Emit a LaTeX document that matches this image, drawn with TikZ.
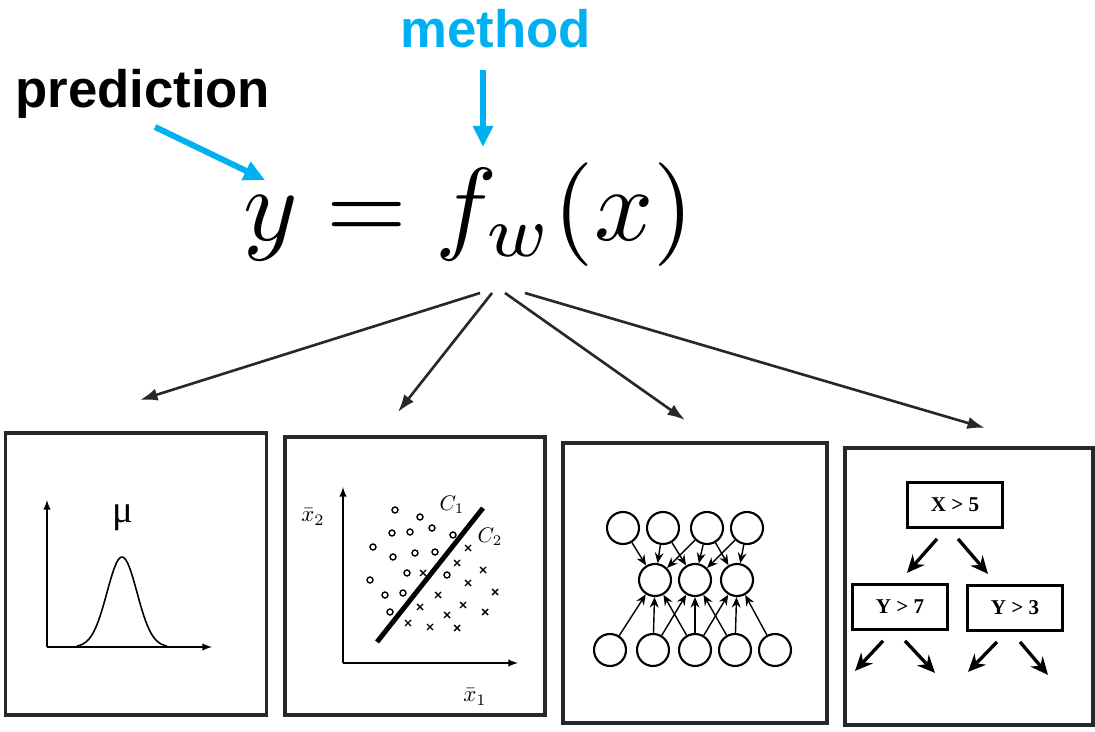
\documentclass[tikz,border=0pt]{standalone}
\usepackage{fontspec}
\usepackage{amsmath}
\usepackage{tikz}
\usetikzlibrary{arrows, arrows.meta, positioning, calc, shapes.geometric}
\newfontfamily\labelfont{Liberation Sans}
\newfontfamily\panelfont{Liberation Serif}
\definecolor{methodcyan}{RGB}{0,176,240}
\definecolor{scangray}{RGB}{40,40,40}
\tikzstyle{callout} = [inner sep=0pt, anchor=base west, font=\labelfont\bfseries\fontsize{30}{32}\selectfont]
\tikzstyle{cyanarrow} = [line width=3.4pt, color=methodcyan, -{Triangle[length=12pt,width=11pt]}]
\tikzstyle{fanarrow} = [line width=1.5pt, color=scangray, -{Latex[length=10pt,width=7pt]}]
\tikzstyle{panel} = [draw=scangray, line width=2.2pt, rectangle, inner sep=0pt]
\tikzstyle{axisarrow} = [line width=0.9pt, ->, >=latex]
\tikzstyle{neuron} = [draw, circle, line width=1.2pt, minimum size=0.64cm, inner sep=0pt]
\tikzstyle{synapse} = [line width=0.8pt, -{Stealth[length=6pt,width=5pt]}]
\tikzstyle{split} = [draw, rectangle, line width=1.6pt, minimum width=1.9cm, minimum height=0.9cm, inner sep=0pt, font=\panelfont\bfseries\fontsize{12}{14}\selectfont]
\tikzstyle{branch} = [line width=1.9pt, -{Stealth[length=10pt,width=9pt]}]

\begin{document}
\begin{tikzpicture}[x=0.02cm, y=-0.02cm]
    \useasboundingbox (0,0) rectangle (1095,732);
    % labels and formula
    \node [callout] (prediction) at (15,108) {prediction};
    \node [callout, text=methodcyan] (method) at (400,48) {method};
    \node [scale=5.9, anchor=base west, inner sep=0pt] (eqn) at (241,241) {$y=f_w(x)$};
    \coordinate (predfoot) at (155,127);
    \coordinate (predtip) at (265,180);
    \coordinate (methodfoot) at (483,70);
    \coordinate (methodtip) at (483,147);
    \draw [cyanarrow] (predfoot) -- (predtip);
    \draw [cyanarrow] (methodfoot) -- (methodtip);
    % fan out to the four methods
    \foreach \n/\sx/\tx/\ty in {1/480/140/400, 2/492/398/412, 3/505/685/420, 4/525/985/428} {
        \coordinate (root\n) at (\sx,293);
        \coordinate (tip\n) at (\tx,\ty);
        \draw [fanarrow] (root\n) -- (tip\n);
    }
    \node [panel, minimum width=5.22cm, minimum height=5.64cm] (gausspanel) at (136,574) {};
    \node [panel, minimum width=5.2cm, minimum height=5.56cm] (linpanel) at (415,576) {};
    \node [panel, minimum width=5.28cm, minimum height=5.6cm] (netpanel) at (695,583) {};
    \node [panel, minimum width=4.96cm, minimum height=5.54cm] (treepanel) at (969,586.5) {};
    % density
    \draw [axisarrow] (47,647) -- (47,500);
    \draw [axisarrow] (47,647) -- (212,647);
    \draw [line width=0.9pt] plot [domain=77:167, samples=60] (\x, {647-90*exp(-((\x-122)^2)/450)});
    \node (mu) at (123,518) {\panelfont\fontsize{22}{24}\selectfont μ};
    % linear classifier
    \draw [axisarrow] (343,663) -- (343,487);
    \draw [axisarrow] (343,663) -- (518,663);
    \node [scale=1.3] (xtwo) at (313,517) {$\bar{x}_2$};
    \node [scale=1.3] (xone) at (475,697) {$\bar{x}_1$};
    \node [scale=1.2] (cone) at (452,505) {$C_1$};
    \node [scale=1.2] (ctwo) at (490,537) {$C_2$};
    \draw [line width=2.8pt] (377,642) -- (483,508);
    \foreach \px/\py in {395/510, 420/517, 392/533, 410/532, 432/528, 453/535, 373/547, 393/557, 415/553, 435/552, 407/573, 370/580, 385/595, 403/593, 390/612, 447/575}
        \draw [line width=0.8pt] (\px,\py) circle (3);
    \foreach \px/\py in {468/548, 457/563, 483/570, 468/583, 495/592, 438/595, 463/605, 485/612, 420/607, 447/615, 408/623, 430/627, 457/628, 423/573}
        \draw [line width=0.8pt] (\px-3,\py-3) -- (\px+3,\py+3) (\px-3,\py+3) -- (\px+3,\py-3);
    % neural network
    \foreach \i/\xx in {1/623, 2/663, 3/707, 4/747}
        \node [neuron] (t\i) at (\xx,528) {};
    \foreach \i/\xx in {1/655, 2/695, 3/737}
        \node [neuron] (m\i) at (\xx,580) {};
    \foreach \i/\xx in {1/610, 2/653, 3/695, 4/735, 5/775}
        \node [neuron] (b\i) at (\xx,650) {};
    \foreach \a/\b in {t1/m1, t2/m1, t2/m2, t3/m1, t3/m2, t3/m3, t4/m2, t4/m3, b1/m1, b2/m1, b2/m2, b3/m1, b3/m2, b3/m3, b4/m2, b4/m3, b5/m3}
        \draw [synapse] (\a) -- (\b);
    % decision tree
    \node [split] (xgt) at (955,505) {X > 5};
    \node [split] (ygtseven) at (900,607) {Y > 7};
    \node [split] (ygtthree) at (1015,608) {Y > 3};
    \draw [branch] ($(xgt.south)+(-18,10)$) -- ($(xgt.south)+(-48,44)$);
    \draw [branch] ($(xgt.south)+(3,10)$) -- ($(xgt.south)+(33,45)$);
    \draw [branch] ($(ygtseven.south)+(-17,10)$) -- ($(ygtseven.south)+(-45,40)$);
    \draw [branch] ($(ygtseven.south)+(5,10)$) -- ($(ygtseven.south)+(35,42)$);
    \draw [branch] ($(ygtthree.south)+(-18,10)$) -- ($(ygtthree.south)+(-47,40)$);
    \draw [branch] ($(ygtthree.south)+(5,10)$) -- ($(ygtthree.south)+(33,43)$);
\end{tikzpicture}
\end{document}
